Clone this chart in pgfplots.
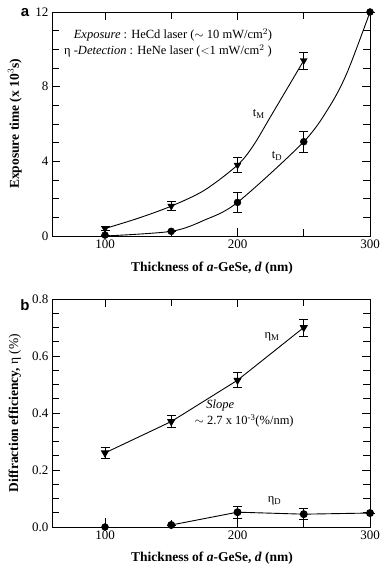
\documentclass[border=0pt]{standalone}
\usepackage{pgfplots}
\pgfplotsset{compat=1.18}
\usepackage{fontspec}
\setmainfont{Liberation Serif}
\setsansfont{Liberation Sans}
\tikzset{txt/.style={font=\fontsize{12.5}{14}\selectfont}}
\begin{document}
\begin{tikzpicture}
\useasboundingbox (0pt,0pt) rectangle (380pt,567pt);
\pgfplotsset{
  common/.style={
    scale only axis, width=318pt,
    xmin=60, xmax=300,
    xtick={100,200,300}, minor xtick={150,250},
    tick align=inside, major tick length=8pt, minor tick length=7pt,
    axis line style={line width=0.9pt},
    every tick/.style={black, line width=0.8pt},
    tick label style={font=\fontsize{13}{14}\selectfont},
    /pgf/number format/assume math mode=true,
    label style={font=\bfseries\fontsize{13.5}{15}\selectfont},
    xlabel style={at={(axis description cs:0.503,#1)}, anchor=center},
    ylabel style={at={(axis description cs:-0.117,0.5)}, anchor=center, rotate=0},
    clip=false,
    xlabel={Thickness of \textit{a}-GeSe, \textit{d} (nm)},
  },
  errb/.style={error bars/.cd, y dir=both, y explicit,
    error mark options={black, rotate=90, mark size=4.5pt, line width=0.8pt},
    error bar style={black, line width=0.8pt}},
}
% ---------- panel a ----------
\begin{axis}[common=-0.143,
  at={(52pt,331pt)}, anchor=south west, height=224pt,
  ymin=0, ymax=12, ytick={0,4,8,12}, minor ytick={1,2,3,5,6,7,9,10,11},
  ylabel={Exposure time (x 10$^{3}$s)},
]
% fit curves
\addplot[black, line width=0.9pt, smooth, tension=0.5] coordinates {
 (100,0.4) (125,0.95) (150,1.6) (175,2.45) (200,3.8) (212,4.85) (225,6.4) (250,9.4)};
\addplot[black, line width=0.9pt, smooth, tension=0.5] coordinates {
 (100,0.0) (150,0.25) (175,0.85) (200,1.8) (250,5.05) (270,7.0) (283,8.8) (300,12)};
% data
\addplot[only marks, mark=triangle*, mark size=4pt, mark options={rotate=180, fill=black}, errb] coordinates {
 (100,0.4) +- (0,0.1)
 (150,1.6) +- (0,0.25)
 (200,3.8) +- (0,0.4)
 (250,9.4) +- (0,0.45)};
\addplot[only marks, mark=*, mark size=3.5pt, mark options={fill=black}, errb] coordinates {
 (100,0.05) +- (0,0)
 (150,0.25) +- (0,0)
 (200,1.8) +- (0,0.55)
 (250,5.05) +- (0,0.56)
 (300,12) +- (0,0)};
\node[txt] at (axis cs:151.3,10.77) {\textit{Exposure} : HeCd laser ($\sim$ 10 mW/cm$^2$)};
\node[txt] at (axis cs:147.5,9.91) {η -\textit{Detection} : HeNe laser ($<$1 mW/cm$^2$ )};
\node[txt] at (axis cs:216,6.55) {t$_{\mathrm{M}}$};
\node[txt] at (axis cs:229.8,4.28) {t$_{\mathrm{D}}$};
\end{axis}
% ---------- panel b ----------
\begin{axis}[common=-0.136,
  at={(52pt,40pt)}, anchor=south west, height=228pt,
  ymin=0, ymax=0.8, ytick={0,0.2,0.4,0.6,0.8},
  minor ytick={0.05,0.1,0.15,0.25,0.3,0.35,0.45,0.5,0.55,0.65,0.7,0.75},
  yticklabel style={/pgf/number format/.cd, fixed, fixed zerofill, precision=1},
  ylabel={Diffraction efficiency, \textmd{η (\%)}},
]
\addplot[black, line width=0.9pt, mark=triangle*, mark size=4pt, mark options={rotate=180, fill=black}, errb] coordinates {
 (100,0.26) +- (0,0.02)
 (150,0.37) +- (0,0.022)
 (200,0.515) +- (0,0.026)
 (250,0.70) +- (0,0.03)};
\addplot[only marks, mark=*, mark size=3.5pt, mark options={fill=black},
  error bars/.cd, y dir=plus, y explicit, error mark=none,
  error bar style={black, line width=0.8pt}] coordinates {
 (100,0.0) +- (0,0.03)};
\addplot[black, line width=0.9pt, mark=*, mark size=3.5pt, mark options={fill=black}, errb] coordinates {
 (150,0.007) +- (0,0)
 (200,0.052) +- (0,0.021)
 (250,0.045) +- (0,0.02)
 (300,0.049) +- (0,0)};
\addplot[draw=none, mark=none,
  error bars/.cd, y dir=plus, y explicit, error mark=none,
  error bar style={black, line width=0.8pt}] coordinates {
 (150,0.007) +- (0,0.017)};
\node[txt] at (axis cs:226,0.667) {η$_{\mathrm{M}}$};
\node[txt] at (axis cs:228,0.091) {η$_{\mathrm{D}}$};
\node[txt] at (axis cs:187,0.425) {\textit{Slope}};
\node[txt, inner sep=0pt] at (axis cs:205,0.372) {$\sim$ 2.7 x 10\textsuperscript{-3}(\%/nm)};
\end{axis}
\node[font=\sffamily\bfseries\fontsize{15}{16}\selectfont] at (25pt,554pt) {a};
\node[font=\sffamily\bfseries\fontsize{15}{16}\selectfont] at (25pt,262pt) {b};
\end{tikzpicture}
\end{document}
